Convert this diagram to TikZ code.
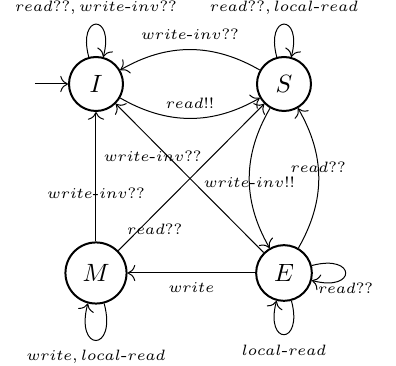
\documentclass[tikz,border=0pt]{standalone}
\usepackage{amsmath}
\usetikzlibrary{arrows.meta,positioning}

\tikzset{
    stt/.style={circle, draw, thick, minimum size=21.6pt, inner sep=4.2pt},
    lbl/.style={font=\fontsize{6.4}{8}\selectfont, inner sep=3.8pt}
}

\begin{document}
\begin{tikzpicture}[x=0.4pt, y=-0.4pt, >={To[scale=1.25]}]
    \useasboundingbox (0,0) rectangle (396,366);

    % States
    \node[stt] (I) at (96,84) {$I$};
    \node[stt] (S) at (284,84) {$S$};
    \node[stt] (M) at (96,273) {$M$};
    \node[stt] (E) at (284,273) {$E$};
    \coordinate (start) at (35,84);

    % Initial arrow
    \draw[->] (start) -- (I);

    % Loops
    \draw[->] (I) to[loop above] node[lbl, above] {$read??, write\text{-}inv??$} (I);
    \draw[->] (S) to[loop above] node[lbl, above] {$read??, local\text{-}read$} (S);
    \draw[->] (M) to[loop below] node[lbl, below] {$write, local\text{-}read$} (M);
    \draw[->] (E) to[loop below] node[lbl, below] {$local\text{-}read$} (E);
    \draw[->] (E) to[loop right] node[lbl, below] {$read??$} (E);

    % Transitions
    \draw[->] (S) to[bend right] node[lbl, above] {$write\text{-}inv??$} (I);
    \draw[->] (I) to[bend right] node[lbl, above] {$read!!$} (S);
    \draw[->] (S) to[bend right] node[lbl, pos=0.53] {$write\text{-}inv!!$} (E);
    \draw[->] (E) to[bend right] node[lbl, pos=0.58] {$read??$} (S);
    \draw[->] (M) -- node[lbl, pos=0.37] {$write\text{-}inv??$} (I);
    \draw[->] (M) -- node[lbl, pos=0.25, below] {$read??$} (S);
    \draw[->] (E) -- node[lbl, pos=0.75, below] {$write\text{-}inv??$} (I);
    \draw[->] (E) -- node[lbl, below] {$write$} (M);
\end{tikzpicture}
\end{document}
